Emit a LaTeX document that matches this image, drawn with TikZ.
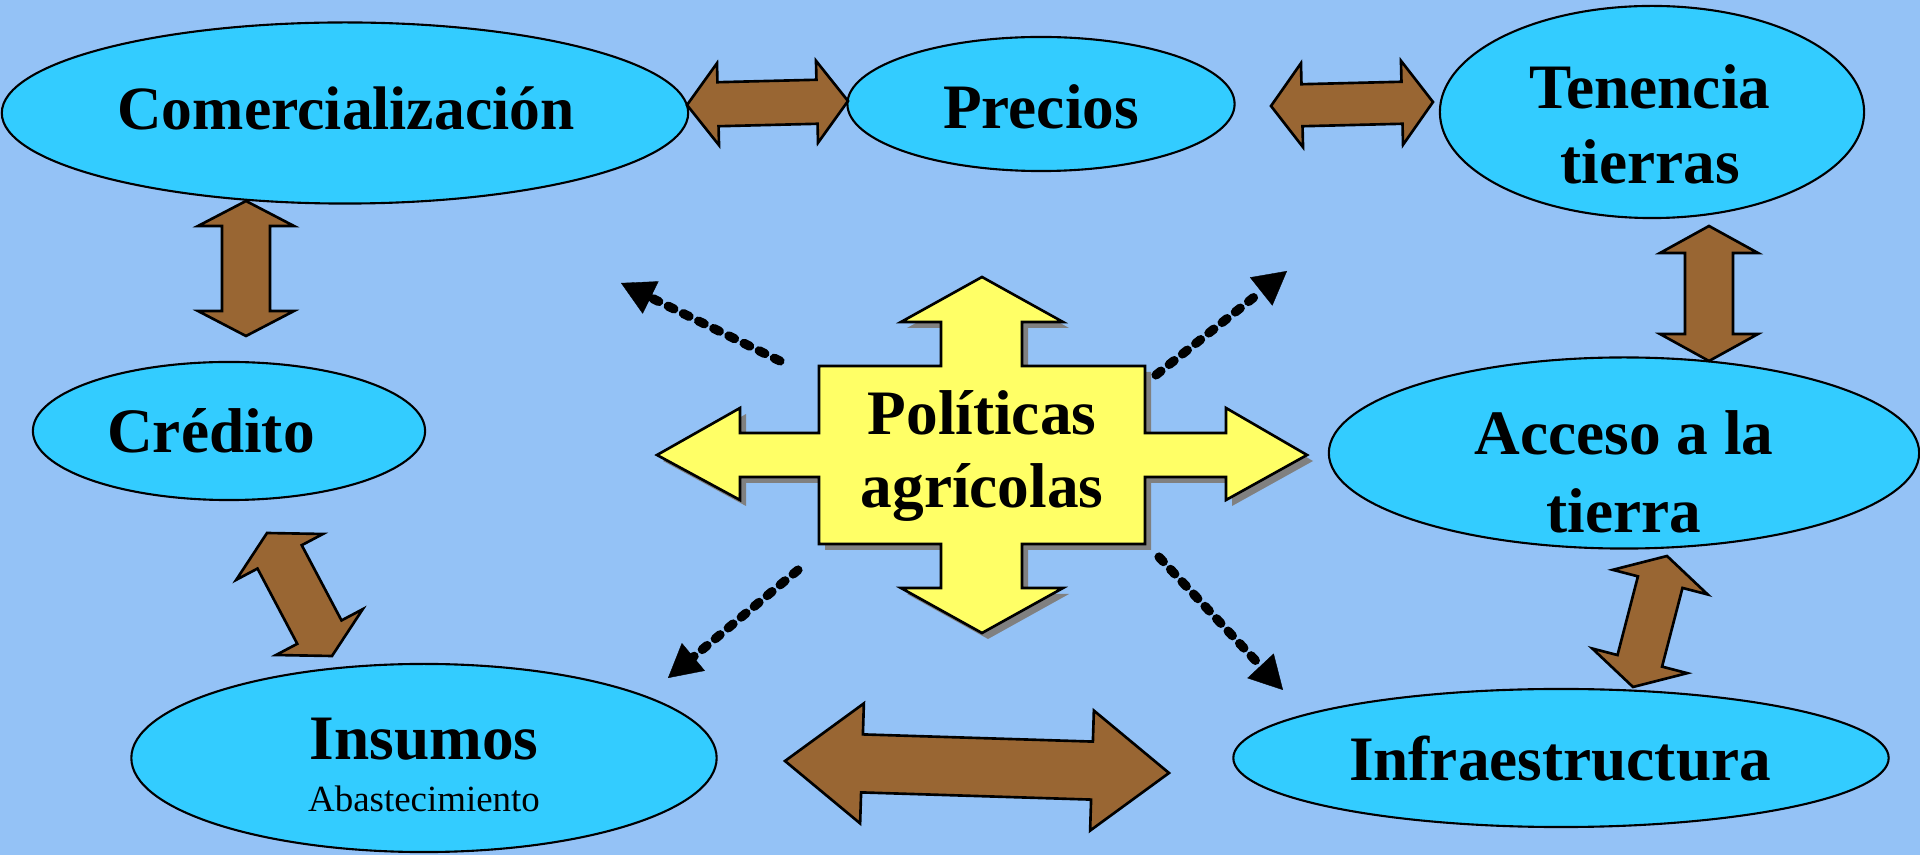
\documentclass[tikz,border=0pt]{standalone}
\usepackage{fontspec}
\setmainfont{Liberation Serif}
\usetikzlibrary{arrows.meta,calc,shapes.geometric}
\definecolor{bgblue}{RGB}{148,194,246}
\definecolor{cyanfill}{RGB}{51,204,255}
\definecolor{brownfill}{RGB}{153,102,51}
\definecolor{yellowfill}{RGB}{255,255,102}
\tikzset{
  blob/.style={ellipse, draw, fill=cyanfill, line width=0.6pt, inner sep=0pt},
  lbl/.style={font=\fontsize{18}{21}\selectfont\bfseries, align=center, inner sep=0pt},
  brownarrow/.style={fill=brownfill, draw=black, line width=0.75pt},
  dashlink/.style={->, line width=2.6pt, line cap=round, dash pattern=on 1.8pt off 3pt}
}
% double block arrow: tips #1 and #2, head length #3, head half width #4, shaft half width #5
\newcommand{\dblarrow}[5]{%
  \filldraw[brownarrow] (#1)
    -- ($(#1)!#3!(#2)!#4!90:(#2)$) -- ($(#1)!#3!(#2)!#5!90:(#2)$)
    -- ($(#2)!#3!(#1)!#5!-90:(#1)$) -- ($(#2)!#3!(#1)!#4!-90:(#1)$)
    -- (#2)
    -- ($(#2)!#3!(#1)!#4!90:(#1)$) -- ($(#2)!#3!(#1)!#5!90:(#1)$)
    -- ($(#1)!#3!(#2)!#5!-90:(#2)$) -- ($(#1)!#3!(#2)!#4!-90:(#2)$)
    -- cycle;}
\newcommand{\crosspath}{(982,277) -- (1063,322) -- (1022,322) -- (1022,366)
  -- (1145,366) -- (1145,433) -- (1226,433) -- (1226,408) -- (1307,455)
  -- (1226,500) -- (1226,477) -- (1145,477) -- (1145,544) -- (1022,544)
  -- (1022,588) -- (1063,588) -- (982,633) -- (901,588) -- (941,588)
  -- (941,544) -- (819,544) -- (819,477) -- (740,477) -- (740,500)
  -- (657,455) -- (740,408) -- (740,433) -- (819,433) -- (819,366)
  -- (941,366) -- (941,322) -- (901,322) -- cycle}

\begin{document}
\begin{tikzpicture}[x=0.01cm, y=-0.01cm,
    >={Triangle[length=0.33cm,width=0.36cm,line width=0.1pt]}]
  \fill[bgblue] (0,0) rectangle (1920,855);
  \useasboundingbox (0,0) rectangle (1920,855);

  % ellipses
  \node[blob, minimum width=6.86cm, minimum height=1.81cm] (comer) at (345,113) {};
  \node[blob, minimum width=3.87cm, minimum height=1.34cm] (precios) at (1041,104) {};
  \node[blob, minimum width=4.24cm, minimum height=2.12cm] (tenencia) at (1652,112) {};
  \node[blob, minimum width=3.92cm, minimum height=1.38cm] (credito) at (229,431) {};
  \node[blob, minimum width=5.90cm, minimum height=1.91cm] (acceso) at (1624,453) {};
  \node[blob, minimum width=5.85cm, minimum height=1.88cm] (insumos) at (424,758) {};
  \node[blob, minimum width=6.55cm, minimum height=1.38cm] (infra) at (1561,758) {};

  \node[lbl, font=\fontsize{17.5}{21}\selectfont\bfseries] (comer-t) at (346,108) {Comercialización};
  \node[lbl] (precios-t) at (1041,107) {Precios};
  \node[lbl, font=\fontsize{18}{21.3}\selectfont\bfseries] (tenencia-t) at (1650,124) {Tenencia\\tierras};
  \node[lbl] (credito-t) at (211,431) {Crédito};
  \node[lbl, font=\fontsize{18}{22}\selectfont\bfseries] (acceso-t) at (1624,472) {Acceso a la\\tierra};
  \node[lbl, anchor=base] (insumos-t) at (424,760) {Insumos};
  \node[anchor=base, inner sep=0pt, font=\fontsize{10.5}{12}\selectfont] (abast) at (424,812) {Abastecimiento};
  \node[lbl] (infra-t) at (1560,759) {Infraestructura};

  % block arrows
  \coordinate (cp1) at (687,105);   \coordinate (cp2) at (848,101);
  \coordinate (pt1) at (1271,106);  \coordinate (pt2) at (1433,102);
  \coordinate (cc1) at (246,201);   \coordinate (cc2) at (246,336);
  \coordinate (ta1) at (1709,226);  \coordinate (ta2) at (1709,361);
  \coordinate (ci1) at (267,533);   \coordinate (ci2) at (332,656);
  \coordinate (ai1) at (1667,556);  \coordinate (ai2) at (1633,687);
  \coordinate (ii1) at (785,761);   \coordinate (ii2) at (1169,773);
  \dblarrow{cp1}{cp2}{0.31cm}{0.41cm}{0.22cm}
  \dblarrow{pt1}{pt2}{0.31cm}{0.42cm}{0.21cm}
  \dblarrow{cc1}{cc2}{0.25cm}{0.48cm}{0.24cm}
  \dblarrow{ta1}{ta2}{0.27cm}{0.49cm}{0.24cm}
  \dblarrow{ci1}{ci2}{0.27cm}{0.49cm}{0.25cm}
  \dblarrow{ai1}{ai2}{0.27cm}{0.49cm}{0.23cm}
  \dblarrow{ii1}{ii2}{0.77cm}{0.60cm}{0.29cm}

  % central cross
  \fill[gray, shift={(6,6)}] \crosspath;
  \filldraw[fill=yellowfill, draw=black, line width=0.75pt] \crosspath;
  \node[lbl, font=\fontsize{18}{20.5}\selectfont\bfseries] (politicas) at (982,456) {Políticas\\agrícolas};

  % dashed arrows
  \coordinate (nw0) at (780,361);   \coordinate (nw1) at (621,283);
  \coordinate (ne0) at (1156,375);  \coordinate (ne1) at (1287,271);
  \coordinate (sw0) at (798,570);   \coordinate (sw1) at (668,678);
  \coordinate (se0) at (1159,557);  \coordinate (se1) at (1283,690);
  \draw[dashlink] (nw0) -- (nw1);
  \draw[dashlink] (ne0) -- (ne1);
  \draw[dashlink] (sw0) -- (sw1);
  \draw[dashlink] (se0) -- (se1);
\end{tikzpicture}
\end{document}
